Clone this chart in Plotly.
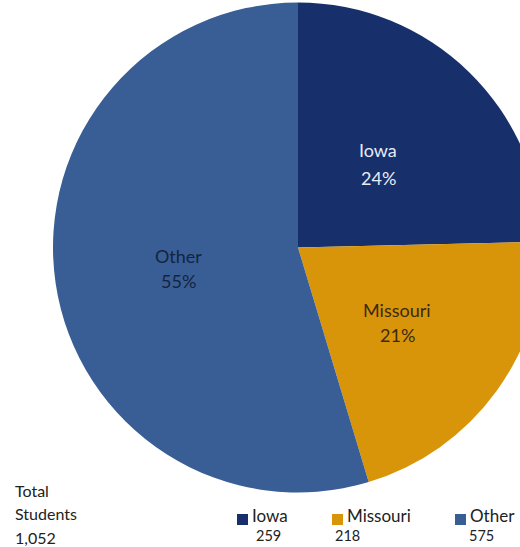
import plotly.graph_objects as go

# Data
categories = ["Iowa", "Missouri", "Other"]
students = [259, 218, 575]
pct_labels = ["24%", "21%", "55%"]
total_lines = ["Total", "Students", "1,052"]

colors = ["#172f6a", "#d9950a", "#385e95"]
text_colors = ["#e6ecf7", "#3b2a10", "#13243f"]

W, H = 545, 547
FONT = "Lato, Calibri, Carlito, sans-serif"

fig = go.Figure()
fig.add_trace(go.Pie(
    labels=categories,
    values=students,
    textinfo="none",
    marker=dict(colors=colors, line=dict(width=0)),
    sort=False,
    direction="clockwise",
    rotation=0,
    showlegend=False,
    hoverinfo="label+value+percent",
    domain=dict(x=[53 / W, 543 / W], y=[(H - 492.5) / H, (H - 2.5) / H]),
))

def px(x):
    return x / W

def py(y):
    return 1 - y / H

annotations = []
# in-slice labels
label_pos = [(378, 150, 178), (397, 310, 335), (178, 256, 281)]
for i, cat in enumerate(categories):
    x, y1, y2 = label_pos[i]
    for txt, yy in ((cat, y1), (pct_labels[i], y2)):
        annotations.append(dict(x=px(x), y=py(yy), xref="paper", yref="paper",
                                text=txt, showarrow=False, xanchor="center", yanchor="middle",
                                font=dict(family=FONT, size=18, color=text_colors[i])))

# Total label
for i, line in enumerate(total_lines):
    annotations.append(dict(x=px(13), y=py(490 + i * 23.5), xref="paper", yref="paper",
                            text=line, showarrow=False, xanchor="left", yanchor="middle",
                            font=dict(family=FONT, size=16, color="#222222")))

shapes = []
legend_sq_x = [237, 332, 455]
legend_num_x = [254, 333, 467]
for i, cat in enumerate(categories):
    x0 = legend_sq_x[i]
    shapes.append(dict(type="rect", xref="paper", yref="paper",
                       x0=px(x0), x1=px(x0 + 11), y0=py(525), y1=py(514),
                       fillcolor=colors[i], line=dict(width=0)))
    annotations.append(dict(x=px(x0 + 13), y=py(515), xref="paper", yref="paper",
                            text=cat, showarrow=False, xanchor="left", yanchor="middle",
                            font=dict(family=FONT, size=17, color="#222222")))
    annotations.append(dict(x=px(legend_num_x[i]), y=py(535.5), xref="paper", yref="paper",
                            text=f"{students[i]}", showarrow=False, xanchor="left", yanchor="middle",
                            font=dict(family=FONT, size=14.5, color="#222222")))

fig.update_layout(
    width=W, height=H,
    margin=dict(l=0, r=0, t=0, b=0),
    paper_bgcolor="white",
    plot_bgcolor="white",
    annotations=annotations,
    shapes=shapes,
)

fig.write_html("out.html", config={"displayModeBar": False},
               post_script="document.body.style.margin='0';document.body.style.overflow='hidden';")
